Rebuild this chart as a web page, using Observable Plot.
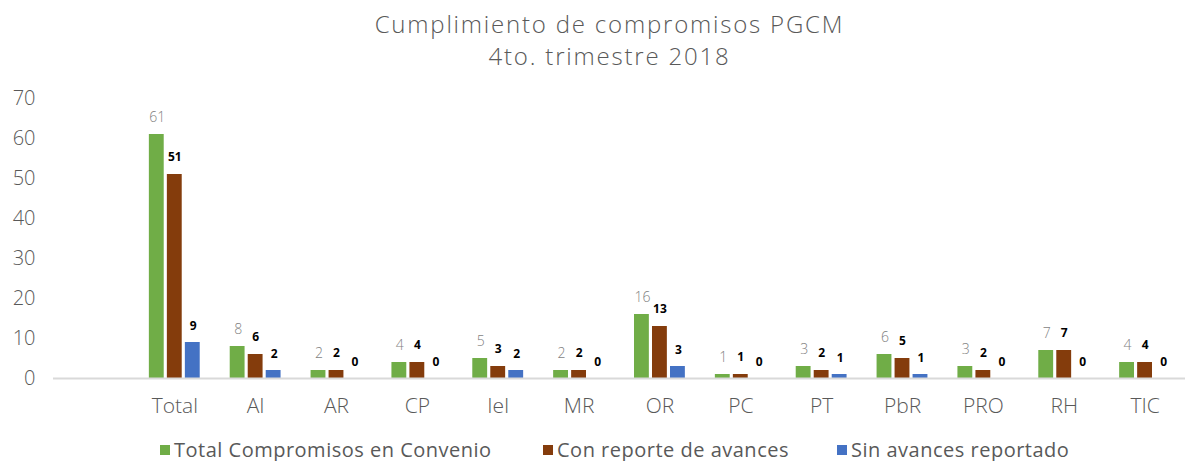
<!DOCTYPE html>
<html>
<head>
<meta charset="utf-8">
<script src="https://cdn.jsdelivr.net/npm/d3@7"></script>
<script src="https://cdn.jsdelivr.net/npm/@observablehq/plot@0.6"></script>
<style>
  html, body { margin: 0; padding: 0; background: #fff; }
  #wrap { width: 1185px; height: 461px; position: relative; font-family: "Open Sans", sans-serif; color: #595959; }
  #title { padding-left: 34px; text-align: center; font-weight: 300; font-size: 24px; padding-top: 8px; height: 73px; box-sizing: border-box; letter-spacing: 1.8px; }
  #title div { height: 32px; line-height: 32px; }
  #legend { position: absolute; top: 436px; left: 0; width: 1185px; height: 26px; font-size: 20px; letter-spacing: 0.5px; }
  .item { position: absolute; top: 0; display: flex; align-items: center; white-space: nowrap; }
  .sw { width: 10px; height: 10px; margin-right: 4px; }
</style>
</head>
<body>
<div id="wrap">
  <div id="title"><div>Cumplimiento de compromisos PGCM</div><div>4to. trimestre 2018</div></div>
  <div id="chart"></div>
  <div id="legend"></div>
</div>
<script>
const categories = ["Total","AI","AR","CP","IeI","MR","OR","PC","PT","PbR","PRO","RH","TIC"];
const totalCompromisos = [61,8,2,4,5,2,16,1,3,6,3,7,4];
const conReporte = [51,6,2,4,3,2,13,1,2,5,2,7,4];
const sinAvances = [9,2,0,0,2,0,3,0,1,1,0,0,0];
const seriesNames = ["Total Compromisos en Convenio","Con reporte de avances","Sin avances reportado"];
const seriesColors = ["#70AD47","#843C0C","#4472C4"];
const yTicks = [0,10,20,30,40,50,60,70];

const rows = s => categories.map((c, i) => ({cat: c, v: s[i]}));
const d0 = rows(totalCompromisos), d1 = rows(conReporte), d2 = rows(sinAvances);

const chart = Plot.plot({
  width: 1185,
  height: 357,
  marginLeft: 53,
  marginRight: 0,
  marginTop: 25,
  marginBottom: 52,
  style: {fontFamily: "Open Sans, sans-serif", color: "#595959", background: "white"},
  x: {domain: ["", ...categories], padding: 0, round: false, label: null},
  y: {domain: [0, 70], label: null},
  marks: [
    Plot.axisY({ticks: yTicks, tickSize: 0, tickPadding: 18, fontSize: 20, fontWeight: 300, fill: "#595959"}),
    Plot.axisX({tickSize: 0, tickPadding: 20, fontSize: 21, fontWeight: 300, fill: "#595959", letterSpacing: "1px"}),
    Plot.barY(d0, {x: "cat", y: "v", fill: seriesColors[0], insetLeft: 15, insetRight: 51}),
    Plot.barY(d1, {x: "cat", y: "v", fill: seriesColors[1], insetLeft: 33, insetRight: 33}),
    Plot.barY(d2, {x: "cat", y: "v", fill: seriesColors[2], insetLeft: 51, insetRight: 15}),
    Plot.ruleY([0], {stroke: "#d9d9d9", strokeWidth: 2}),
    Plot.text(d0, {x: "cat", y: "v", text: d => String(d.v), dx: -17.5, dy: -17, fill: "#7f7f7f", fontSize: 14, fontWeight: 300}),
    Plot.text(d1, {x: "cat", y: "v", text: d => String(d.v), dx: 0, dy: -17, fill: "#000", fontSize: 12, fontWeight: 700}),
    Plot.text(d2, {x: "cat", y: "v", text: d => String(d.v), dx: 18.5, dy: -16, fill: "#000", fontSize: 12, fontWeight: 700})
  ]
});
document.getElementById("chart").appendChild(chart);

const legend = document.getElementById("legend");
const lefts = [160, 543, 837];
seriesNames.forEach((n, i) => {
  const it = document.createElement("div");
  it.className = "item";
  it.style.left = lefts[i] + "px";
  it.innerHTML = `<span class="sw" style="background:${seriesColors[i]}"></span><span>${n}</span>`;
  legend.appendChild(it);
});
</script>
</body>
</html>
